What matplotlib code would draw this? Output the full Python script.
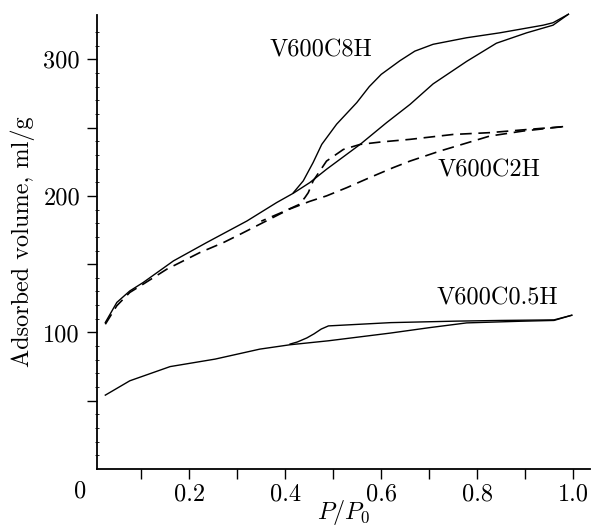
import matplotlib
matplotlib.use("Agg")
import matplotlib.pyplot as plt
import numpy as np

plt.rcParams['font.family'] = 'serif'
plt.rcParams['font.serif'] = ['cmr10']
plt.rcParams['mathtext.fontset'] = 'cm'
plt.rcParams['axes.unicode_minus'] = False

# V600C0.5H isotherm
c05_ads_x = [0.025, 0.076, 0.16, 0.254, 0.347, 0.41, 0.49, 0.618, 0.70, 0.778, 0.889, 0.96, 0.997]
c05_ads_y = [54.1, 64.6, 75.0, 80.5, 87.8, 91.0, 93.9, 99.5, 103.5, 107.0, 108.2, 108.8, 112.6]
c05_des_x = [0.997, 0.96, 0.85, 0.757, 0.62, 0.49, 0.475, 0.46, 0.445, 0.425, 0.41]
c05_des_y = [112.6, 109.2, 108.8, 108.3, 107.2, 104.8, 102.5, 99.0, 96.0, 93.0, 91.5]

# V600C8H isotherm
c8_ads_x = [0.025, 0.049, 0.076, 0.104, 0.167, 0.236, 0.32, 0.382, 0.417, 0.451, 0.486,
            0.556, 0.611, 0.66, 0.708, 0.778, 0.84, 0.903, 0.958, 0.99]
c8_ads_y = [107.3, 122.0, 130.4, 136.6, 152.4, 165.8, 181.6, 195.1, 202.0, 209.7, 219.5,
            237.7, 253.6, 267.0, 282.0, 298.5, 311.8, 319.4, 325.0, 333.0]
c8_des_x = [0.99, 0.958, 0.9375, 0.847, 0.778, 0.708, 0.67, 0.639, 0.6, 0.575, 0.549,
            0.507, 0.476, 0.458, 0.4375, 0.417]
c8_des_y = [333.0, 326.8, 325.0, 319.4, 315.8, 311.0, 306.0, 299.0, 289.0, 280.0, 268.3,
            252.5, 237.7, 224.4, 211.0, 202.4]

# V600C2H isotherm
c2_ads_x = [0.025, 0.049, 0.076, 0.104, 0.153, 0.222, 0.271, 0.306, 0.354, 0.408, 0.451,
            0.486, 0.528, 0.576, 0.625, 0.66, 0.722, 0.826, 0.896, 0.979]
c2_ads_y = [106.0, 119.6, 129.3, 135.4, 146.3, 158.5, 165.8, 171.9, 180.5, 190.2, 196.0,
            200.0, 206.0, 213.4, 220.7, 225.5, 232.8, 243.8, 247.5, 250.7]
c2_des_x = [0.979, 0.9, 0.826, 0.75, 0.66, 0.6, 0.556, 0.521, 0.486, 0.472, 0.458, 0.448,
            0.441, 0.43, 0.39, 0.35]
c2_des_y = [250.7, 248.5, 246.3, 245.0, 241.4, 239.5, 237.7, 234.0, 225.5, 218.2, 210.9,
            202.4, 198.8, 193.9, 187.5, 181.5]

x_ticks = [0.1, 0.2, 0.3, 0.4, 0.5, 0.6, 0.7, 0.8, 0.9, 1.0]
x_labels = ['', '0.2', '', '0.4', '', '0.6', '', '0.8', '', '1.0']
y_ticks = [50, 100, 150, 200, 250, 300]
y_labels = ['', '100', '', '200', '', '300']

fig = plt.figure(figsize=(5.92, 5.28), dpi=100)
ax = fig.add_axes([0.1633, 0.1117, 0.8333, 0.86])

fs = 17.5
lw = 1.0
dash = (0, (7, 4))
ax.plot(c05_ads_x, c05_ads_y, color='black', lw=lw, clip_on=False)
ax.plot(c05_des_x, c05_des_y, color='black', lw=lw, clip_on=False)
ax.plot(c8_ads_x, c8_ads_y, color='black', lw=lw, clip_on=False)
ax.plot(c8_des_x, c8_des_y, color='black', lw=lw, clip_on=False)
ax.plot(c2_ads_x, c2_ads_y, color='black', lw=1.2, ls=dash, clip_on=False)
ax.plot(c2_des_x, c2_des_y, color='black', lw=1.2, ls=dash, clip_on=False)

ax.text(0.474, 306.5, 'V600C8H', fontsize=fs, ha='center', va='center')
ax.text(0.824, 218.4, 'V600C2H', fontsize=fs, ha='center', va='center')
ax.text(0.841, 125.1, 'V600C0.5H', fontsize=fs, ha='center', va='center')

ax.set_xlim(0.007, 1.035)
ax.set_ylim(0, 332.5)

ax.spines['top'].set_visible(False)
ax.spines['right'].set_visible(False)
ax.spines['left'].set_linewidth(1.3)
ax.spines['bottom'].set_linewidth(1.3)

ax.set_xticks(x_ticks)
ax.set_xticklabels(x_labels)
ax.set_yticks(y_ticks)
ax.set_yticklabels(y_labels)
ax.set_yticks(np.arange(10, 330, 10), minor=True)
ax.tick_params(axis='both', which='major', direction='out', length=7, width=1.0,
               labelsize=fs, pad=5)
ax.tick_params(axis='x', which='major', pad=3)
ax.tick_params(axis='y', which='minor', direction='inout', length=3, width=0.6)

ax.text(-0.034, -0.05, '0', transform=ax.transAxes, fontsize=fs,
        ha='center', va='center')

ax.set_xlabel('$P/P_0$', fontsize=fs, labelpad=-5)
ax.set_ylabel('Adsorbed volume, ml/g', fontsize=fs, labelpad=6)

fig.savefig('out.png', dpi=100)
